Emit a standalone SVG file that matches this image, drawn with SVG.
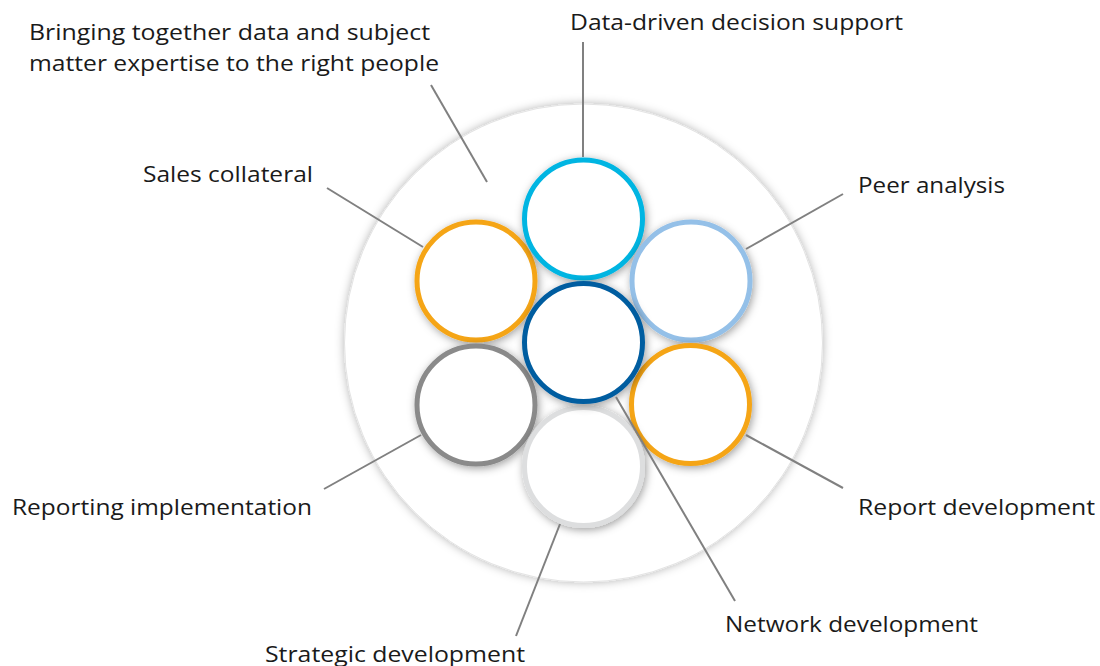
<svg xmlns="http://www.w3.org/2000/svg" width="1100" height="666" viewBox="0 0 1100 666">
  <defs>
    <filter id="bigShadow" x="-20%" y="-20%" width="140%" height="140%">
      <feDropShadow dx="0" dy="0" stdDeviation="5" flood-color="#000" flood-opacity="0.3"/>
    </filter>
    <filter id="smallShadow" x="-30%" y="-30%" width="160%" height="160%">
      <feDropShadow dx="1.5" dy="2" stdDeviation="4.5" flood-color="#000" flood-opacity="0.38"/>
    </filter>
  </defs>
  <style>
    .node circle { fill: #ffffff; stroke-width: 5; filter: url(#smallShadow); }
    .lbl { font-family: "Open Sans", "Liberation Sans", sans-serif; font-size: 22px; fill: #1a1a1a; }
    .conn line { stroke: #808080; stroke-width: 2; stroke-linecap: butt; }
  </style>
  <rect width="1100" height="666" fill="#ffffff"/>

  <g id="outer-ring">
    <circle cx="583.5" cy="343" r="239" fill="#ffffff" stroke="#e3e3e3" stroke-width="1" filter="url(#bigShadow)"/>
  </g>

  <g id="node-sales" class="node"><circle cx="476" cy="281" r="59" stroke="#F5A515"/></g>
  <g id="node-data" class="node"><circle cx="583.5" cy="219" r="59" stroke="#00B5E2"/></g>
  <g id="node-peer" class="node"><circle cx="691" cy="281" r="59" stroke="#94C0E8"/></g>
  <g id="node-report-dev" class="node"><circle cx="690.5" cy="404.5" r="59" stroke="#F5A515"/></g>
  <g id="node-reporting-impl" class="node"><circle cx="476" cy="405" r="59" stroke="#8A8A8A"/></g>
  <g id="node-strategic" class="node"><circle cx="583.5" cy="466.5" r="59" stroke="#DDDEDF"/></g>
  <g id="node-network" class="node"><circle cx="583.5" cy="342.5" r="59" stroke="#005DA0"/></g>

  <g id="connectors" class="conn">
    <line x1="583" y1="42" x2="583" y2="157"/>
    <line x1="431" y1="85" x2="487" y2="182"/>
    <line x1="327" y1="188" x2="423" y2="247"/>
    <line x1="843" y1="194" x2="746" y2="249"/>
    <line x1="746" y1="435" x2="843" y2="488"/>
    <line x1="324" y1="489" x2="421" y2="435"/>
    <line x1="560" y1="524" x2="516" y2="636"/>
    <line x1="616" y1="397" x2="735" y2="601"/>
  </g>

  <g id="labels">
    <text class="lbl" x="570" y="30" textLength="333" lengthAdjust="spacingAndGlyphs">Data-driven decision support</text>
    <text class="lbl" x="29" y="40" textLength="401" lengthAdjust="spacingAndGlyphs">Bringing together data and subject</text>
    <text class="lbl" x="29" y="71" textLength="410" lengthAdjust="spacingAndGlyphs">matter expertise to the right people</text>
    <text class="lbl" x="143" y="182" textLength="170" lengthAdjust="spacingAndGlyphs">Sales collateral</text>
    <text class="lbl" x="858" y="193" textLength="147" lengthAdjust="spacingAndGlyphs">Peer analysis</text>
    <text class="lbl" x="12" y="515" textLength="300" lengthAdjust="spacingAndGlyphs">Reporting implementation</text>
    <text class="lbl" x="858" y="515" textLength="237" lengthAdjust="spacingAndGlyphs">Report development</text>
    <text class="lbl" x="725" y="632" textLength="253" lengthAdjust="spacingAndGlyphs">Network development</text>
    <text class="lbl" x="265" y="662" textLength="260" lengthAdjust="spacingAndGlyphs">Strategic development</text>
  </g>
</svg>
